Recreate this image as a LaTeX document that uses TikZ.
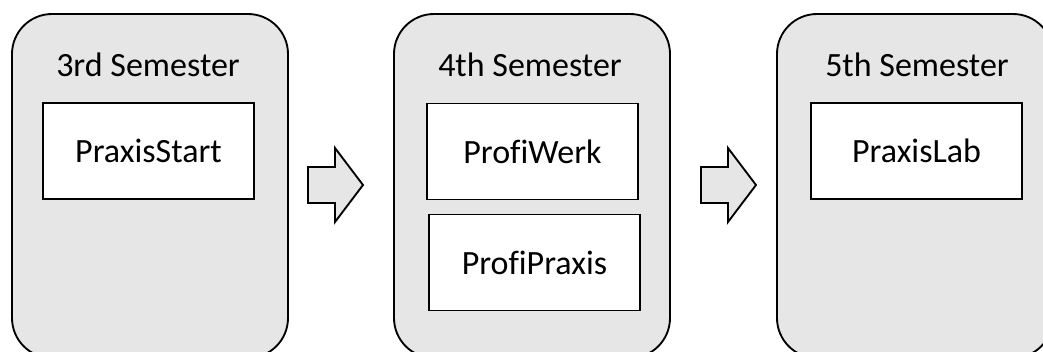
\documentclass[tikz,border=0pt]{standalone}
\usepackage{fontspec}
\setmainfont{Carlito}[Ligatures=CommonOff]
\begin{document}
\begin{tikzpicture}[x=0.75pt,y=-0.75pt,
  semester/.style={draw=black, line width=1.4pt, fill=semgray, rounded corners=30pt,
    minimum width=207pt, minimum height=258pt, inner sep=0pt},
  course/.style={draw=black, line width=1.4pt, fill=white,
    minimum width=158.25pt, minimum height=72pt, inner sep=0pt,
    font=\fontsize{25.5}{30}\selectfont},
  title/.style={font=\fontsize{25.5}{30}\selectfont, inner sep=0pt},
  flowarrow/.style={draw=black, line width=1.4pt, fill=semgray, line join=miter}]
\definecolor{semgray}{HTML}{E6E6E6}
\useasboundingbox (0,0) rectangle (1043,351);
\clip (0,0) rectangle (1043,351);
\node[semester] (s3) at (150,186) {};
\node[semester] (s4) at (532,186) {};
\node[semester] (s5) at (915,186) {};
\node[title] (t3) at (148,65) {3rd Semester};
\node[title] (t4) at (530,65) {4th Semester};
\node[title] (t5) at (917,65) {5th Semester};
\node[course] (c1) at (148.5,151) {PraxisStart};
\node[course] (c2) at (532.5,151.5) {ProfiWerk};
\node[course] (c3) at (534.5,262.5) {ProfiPraxis};
\node[course] (c4) at (916.5,151) {PraxisLab};
\coordinate (a1) at (308,185);
\coordinate (a2) at (701,185);
\foreach \a in {a1,a2}{
  \draw[flowarrow] (\a) ++(0,-18) -- ++(27,0) -- ++(0,-19) -- ++(28,37) -- ++(-28,37) -- ++(0,-19) -- ++(-27,0) -- cycle;
}
\end{tikzpicture}
\end{document}
